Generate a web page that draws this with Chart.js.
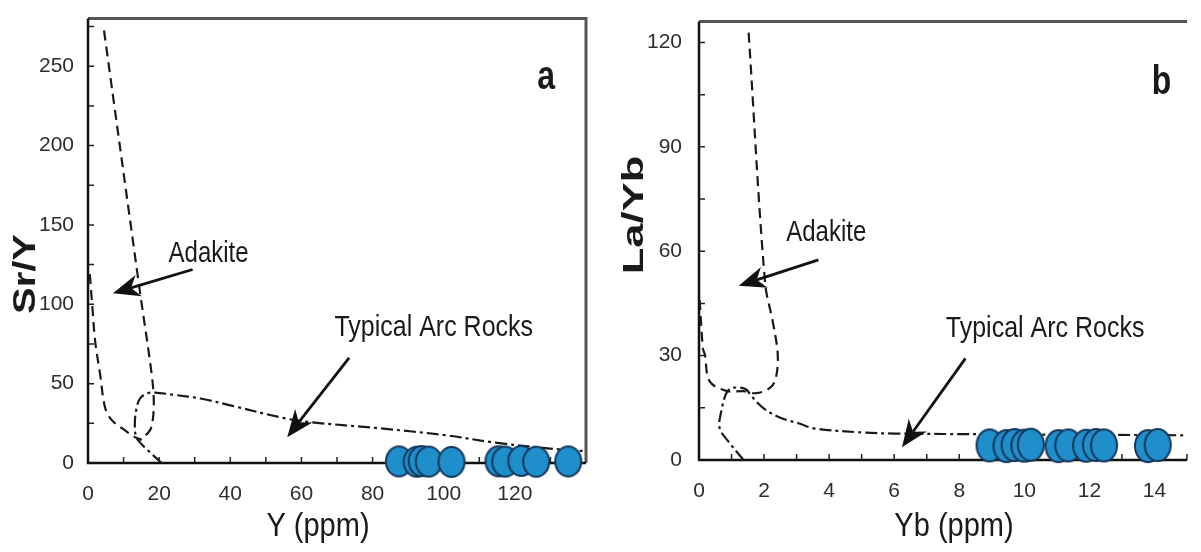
<!DOCTYPE html>
<html>
<head>
<meta charset="utf-8">
<script src="https://cdn.jsdelivr.net/npm/chart.js@4.4.0/dist/chart.umd.min.js"></script>
<style>
  html, body { margin: 0; padding: 0; background: #fff; overflow: hidden; }
  #wrap { position: relative; width: 1201px; height: 552px; }
  #chart-a { position: absolute; left: 0; top: 0; }
  #chart-b { position: absolute; left: 600px; top: 0; }
</style>
</head>
<body>
<div id="wrap">
  <canvas id="chart-a" width="600" height="552"></canvas>
  <canvas id="chart-b" width="601" height="552"></canvas>
</div>
<script>
// ---- panel a : Sr/Y vs Y (ppm) ----
const aAdakiteLeftX = [0.5, 1.1, 2.0, 3.4, 4.8, 6.7, 10.4, 13.2, 15.1];
const aAdakiteLeftY = [119, 102, 77, 56, 35, 27, 20.6, 16.3, 14.5];
const aAdakiteRightX = [4.5, 14.6, 17.9, 18.5, 18.2, 17.4, 15.1, 13.7];
const aAdakiteRightY = [272.5, 108, 56, 39, 27, 20.6, 15.6, 14.4];
const aArcX = [20.7, 16.8, 14.6, 13.4, 13.2, 13.7, 14.6, 16.5, 18.8, 24, 32, 40.6, 55.7, 63, 81.8, 100.5, 114.5, 128.5, 135, 140];
const aArcY = [0, 8, 13, 17.5, 27, 35, 40.6, 43.8, 44.4, 43, 40.5, 36, 28, 25.6, 21.9, 17.5, 12.8, 9.4, 8.1, 7.5];
const aSampleY_ppm = [87.4, 92.4, 93.8, 95.8, 102.2, 115.4, 117.3, 121.8, 126, 135];
const aSampleSrY = [1.0, 0.8, 1.2, 0.9, 0.7, 1.1, 0.9, 1.3, 0.8, 1.0];

// ---- panel b : La/Yb vs Yb (ppm) ----
const bAdakiteX = [0.02, 0.12, 0.18, 0.33, 0.87, 1.37, 1.76, 2.18, 2.36, 2.42, 2.27, 2.03, 1.52];
const bAdakiteY = [46, 32, 30.3, 22.6, 19.8, 19.8, 19.2, 20.7, 23.5, 30.3, 39.6, 51, 123.7];
const bArcX = [1.37, 0.87, 0.63, 0.69, 0.84, 1.02, 1.43, 1.61, 1.97, 2.48, 3.08, 3.53, 5.02, 6.0, 9, 15];
const bArcY = [0, 5.7, 9.3, 14.2, 19.2, 20.7, 20.4, 18.4, 15, 12.2, 10.5, 9.1, 7.9, 7.6, 7.4, 7.1];
const bSampleYb = [8.93, 9.45, 9.7, 10.0, 10.2, 11.05, 11.35, 11.9, 12.2, 12.45, 13.8, 14.1];
const bSampleLaYb = [4.2, 4.0, 4.3, 4.1, 4.4, 4.0, 4.2, 4.1, 4.3, 4.2, 4.0, 4.3];

const FONT = '"Liberation Sans", Arial, sans-serif';

function pairs(xs, ys) {
    return xs.map((x, i) => ({ x: x, y: ys[i] }));
}

// blue ellipse marker (the figure's dots are a bit taller than wide)
function makeDot(w, h) {
    const c = document.createElement("canvas");
    c.width = w + 4;
    c.height = h + 4;
    const g = c.getContext("2d");
    g.beginPath();
    g.ellipse(c.width / 2, c.height / 2, w / 2, h / 2, 0, 0, Math.PI * 2);
    g.fillStyle = "#1f8fcc";
    g.fill();
    g.lineWidth = 2;
    g.strokeStyle = "#15365a";
    g.stroke();
    return c;
}

function curve(data, dash) {
    return {
        data: data,
        showLine: true,
        pointRadius: 0,
        borderColor: "#1a1a1a",
        borderWidth: 2.2,
        borderDash: dash,
        tension: 0.35,
        fill: false
    };
}

function stretchText(ctx, str, x, y, font, stretch, rot) {
    ctx.save();
    ctx.translate(x, y);
    if (rot) {
        ctx.rotate(rot);
        ctx.scale(stretch, 1);
    } else {
        ctx.scale(1, stretch);
    }
    ctx.font = font;
    ctx.fillStyle = "#1a1a1a";
    ctx.textAlign = "center";
    ctx.textBaseline = "middle";
    ctx.fillText(str, 0, 0);
    ctx.restore();
}

function arrow(ctx, x1, y1, x2, y2) {
    const ang = Math.atan2(y2 - y1, x2 - x1);
    const head = 27, half = 11;
    const cos = Math.cos(ang), sin = Math.sin(ang);
    const bx = x2 - head * cos, by = y2 - head * sin;
    const nx = x2 - head * 0.7 * cos, ny = y2 - head * 0.7 * sin;
    ctx.beginPath();
    ctx.moveTo(x1, y1);
    ctx.lineTo(nx, ny);
    ctx.stroke();
    ctx.beginPath();
    ctx.moveTo(x2, y2);
    ctx.lineTo(bx + half * sin, by - half * cos);
    ctx.lineTo(nx, ny);
    ctx.lineTo(bx - half * sin, by + half * cos);
    ctx.closePath();
    ctx.fill();
}

const decor = {
    id: "decor",
    beforeDatasetsDraw(chart, args, opts) {
        const ctx = chart.ctx, ca = chart.chartArea;
        const xs = chart.scales.x, ys = chart.scales.y;
        ctx.save();
        ctx.strokeStyle = "#222";
        ctx.lineWidth = 1.5;
        ctx.beginPath();
        xs.ticks.forEach(t => {
            const px = xs.getPixelForValue(t.value);
            ctx.moveTo(px, ca.bottom);
            ctx.lineTo(px, ca.bottom - 6);
        });
        ys.ticks.forEach(t => {
            const py = ys.getPixelForValue(t.value);
            ctx.moveTo(ca.left, py);
            ctx.lineTo(ca.left + 6, py);
        });
        ctx.stroke();
        // frame
        ctx.lineWidth = 3;
        ctx.strokeStyle = "#555";
        ctx.beginPath();
        ctx.moveTo(ca.left, ca.top);
        ctx.lineTo(ca.right, ca.top);
        if (opts.rightBorder) ctx.lineTo(ca.right, ca.bottom);
        ctx.stroke();
        ctx.lineWidth = 2.5;
        ctx.strokeStyle = "#111";
        ctx.beginPath();
        ctx.moveTo(ca.left, ca.top);
        ctx.lineTo(ca.left, ca.bottom);
        ctx.lineTo(ca.right, ca.bottom);
        ctx.stroke();
        ctx.restore();
    },
    afterDraw(chart, args, opts) {
        const ctx = chart.ctx;
        const xs = chart.scales.x, ys = chart.scales.y;
        const X = v => xs.getPixelForValue(v), Y = v => ys.getPixelForValue(v);
        ctx.save();
        ctx.strokeStyle = "#111";
        ctx.fillStyle = "#111";
        ctx.lineWidth = 2.8;
        opts.arrows.forEach(a => arrow(ctx, X(a[0]), Y(a[1]), X(a[2]), Y(a[3])));
        opts.notes.forEach(n => stretchText(ctx, n.text, X(n.x), Y(n.y), n.font, n.stretch, 0));
        const xt = opts.xTitle, yt = opts.yTitle;
        stretchText(ctx, xt.text, xt.px, xt.py, xt.font, xt.stretch, 0);
        stretchText(ctx, yt.text, yt.px, yt.py, yt.font, yt.stretch, -Math.PI / 2);
        ctx.restore();
    }
};

function makeChart(canvas, datasets, xOpts, yOpts, pad, decorOpts) {
    const tickFont = { family: FONT, size: 21 };
    return new Chart(canvas.getContext("2d"), {
        type: "scatter",
        data: { datasets: datasets },
        options: {
            responsive: false,
            animation: false,
            devicePixelRatio: 1,
            events: [],
            layout: { padding: pad },
            plugins: {
                legend: { display: false },
                tooltip: { enabled: false },
                decor: decorOpts
            },
            scales: {
                x: {
                    type: "linear",
                    min: xOpts.min,
                    max: xOpts.max,
                    grid: { display: false },
                    border: { display: false },
                    afterFit: s => { s.height = xOpts.height; },
                    ticks: {
                        stepSize: xOpts.step,
                        includeBounds: false,
                        autoSkip: false,
                        maxRotation: 0,
                        padding: 11,
                        color: "#2e2e2e",
                        font: tickFont,
                        callback: xOpts.label
                    }
                },
                y: {
                    type: "linear",
                    min: yOpts.min,
                    max: yOpts.max,
                    grid: { display: false },
                    border: { display: false },
                    afterFit: s => { s.width = yOpts.width; },
                    ticks: {
                        stepSize: yOpts.step,
                        includeBounds: false,
                        autoSkip: false,
                        padding: yOpts.padding,
                        color: "#2e2e2e",
                        font: tickFont,
                        callback: yOpts.label
                    }
                }
            }
        },
        plugins: [decor]
    });
}

const dotA = makeDot(26, 30);
const dotB = makeDot(26, 32);

makeChart(
    document.getElementById("chart-a"),
    [
        { data: pairs(aSampleY_ppm, aSampleSrY), pointStyle: dotA, pointRadius: 13, clip: false },
        curve(pairs(aAdakiteLeftX, aAdakiteLeftY), [10, 6]),
        curve(pairs(aAdakiteRightX, aAdakiteRightY), [10, 6]),
        curve(pairs(aArcX, aArcY), [12, 4, 3, 4])
    ],
    { min: 0, max: 140, step: 10, height: 89, label: v => (v % 20 === 0 && v <= 120 ? v : "") },
    { min: 0, max: 280, step: 25, width: 88, padding: 6, label: v => (v % 50 === 0 ? v : "") },
    { top: 15, right: 12, left: 0, bottom: 0 },
    {
        rightBorder: true,
        arrows: [[29.4, 121.9, 7.0, 106.9], [73.4, 66.3, 56, 16.3]],
        notes: [
            { text: "Adakite", x: 33.9, y: 131.9, font: "24px " + FONT, stretch: 1.2 },
            { text: "Typical Arc Rocks", x: 97.2, y: 85, font: "25px " + FONT, stretch: 1.15 },
            { text: "a", x: 128.8, y: 242.5, font: "bold 32px " + FONT, stretch: 1.25 }
        ],
        xTitle: { text: "Y (ppm)", px: 318, py: 527, font: "29px " + FONT, stretch: 1.15 },
        yTitle: { text: "Sr/Y", px: 26, py: 274, font: "bold 32px " + FONT, stretch: 1.25 }
    }
);

makeChart(
    document.getElementById("chart-b"),
    [
        { data: pairs(bSampleYb, bSampleLaYb), pointStyle: dotB, pointRadius: 13, clip: false },
        curve(pairs(bAdakiteX, bAdakiteY), [10, 6]),
        curve(pairs(bArcX, bArcY), [12, 4, 3, 4])
    ],
    { min: 0, max: 15, step: 1, height: 92, label: v => (v % 2 === 0 ? v : "") },
    { min: 0, max: 126, step: 15, width: 99, padding: 9, label: v => (v % 30 === 0 ? v : "") },
    { top: 15, right: 0, left: 0, bottom: 0 },
    {
        rightBorder: false,
        arrows: [[3.67, 57.5, 1.22, 50.1], [8.19, 29.2, 6.24, 3.7]],
        notes: [
            { text: "Adakite", x: 3.91, y: 65.1, font: "24px " + FONT, stretch: 1.2 },
            { text: "Typical Arc Rocks", x: 10.64, y: 37.6, font: "25px " + FONT, stretch: 1.15 },
            { text: "b", x: 14.22, y: 108.4, font: "bold 32px " + FONT, stretch: 1.25 }
        ],
        xTitle: { text: "Yb (ppm)", px: 354, py: 527, font: "29px " + FONT, stretch: 1.15 },
        yTitle: { text: "La/Yb", px: 35, py: 215, font: "bold 30px " + FONT, stretch: 1.45 }
    }
);
</script>
</body>
</html>
